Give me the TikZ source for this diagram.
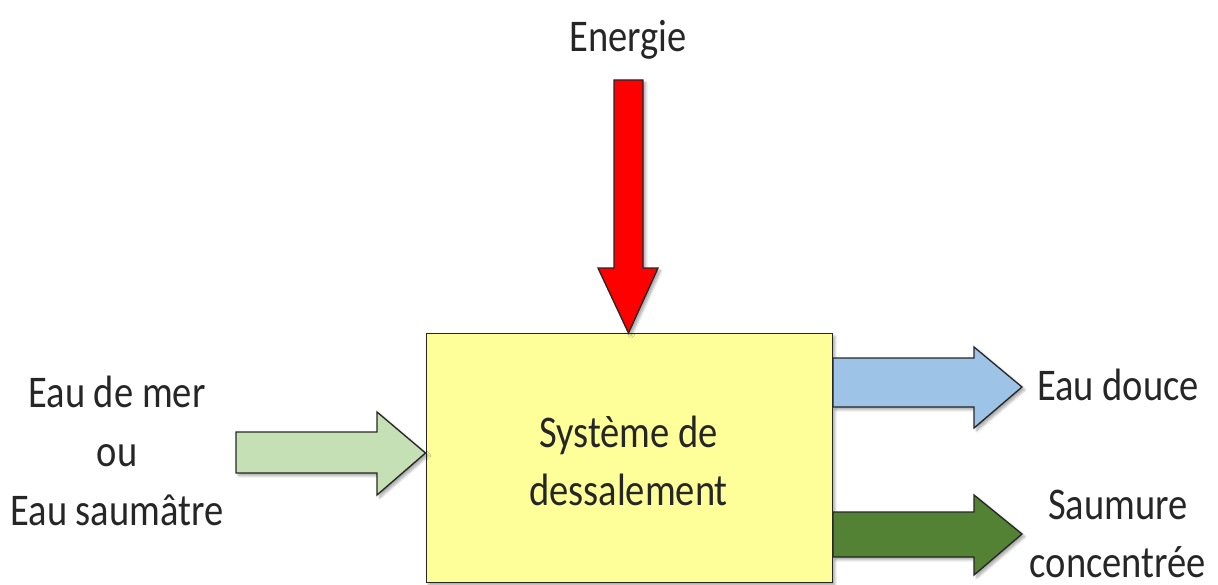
\documentclass[tikz,border=0pt]{standalone}
\usepackage{fontspec}
\setmainfont{Carlito}
\usetikzlibrary{shadows.blur}

\definecolor{boxyellow}{RGB}{255,255,153}
\definecolor{lightgreen}{RGB}{197,224,180}
\definecolor{lightblue}{RGB}{157,195,230}
\definecolor{darkgreen}{RGB}{84,130,53}

\tikzset{
  flow/.style={draw=black!85, line width=1pt, line join=miter, blur shadow={shadow blur steps=6, shadow xshift=2pt, shadow yshift=-2pt, shadow opacity=35}},
  label/.style={inner sep=0pt, align=center, xscale=0.85, font=\fontsize{34}{44}\selectfont, text=black!85}
}

\begin{document}
\begin{tikzpicture}[x=0.75pt,y=0.75pt,yscale=-1,xscale=1]
\useasboundingbox (0,0) rectangle (1218,585);

%Shape: Rectangle [id:systeme]
\node (sys) [flow, fill=boxyellow, minimum width=406pt*0.75, minimum height=249pt*0.75, anchor=north west, inner sep=0pt] at (425.5,333) {};

%Shape: Down Arrow [id:energie]
\draw [flow, fill=red] (614,80) -- (643,80) -- (643,268) -- (658,268) -- (sys.north -| 628.5,0) -- (598,268) -- (614,268) -- cycle;
%Shape: Right Arrow [id:entree]
\draw [flow, fill=lightgreen] (236,432) -- (377,432) -- (377,412) -- (sys.west |- 0,453) -- (377,495) -- (377,473) -- (236,473) -- cycle;
%Shape: Right Arrow [id:douce]
\draw [flow, fill=lightblue] (sys.east |- 0,358) -- (974,358) -- (974,347) -- (1022,387) -- (974,428) -- (974,407) -- (sys.east |- 0,407) -- cycle;
%Shape: Right Arrow [id:saumure]
\draw [flow, fill=darkgreen] (sys.east |- 0,512) -- (974,512) -- (974,495) -- (1022,534) -- (974,575) -- (974,557) -- (sys.east |- 0,557) -- cycle;

% Text Node
\node (txtsys) [label] at (628.5,461) {Système de\\dessalement};
% Text Node
\node (txtenergie) [label] at (628,40) {Energie};
% Text Node
\node (txtentree) [label] at (117,451) {Eau de mer\\ou\\Eau saumâtre};
% Text Node
\node (txtdouce) [label] at (1118,385) {Eau douce};
% Text Node
\node (txtsaumure) [label] at (1118,534) {Saumure\\concentrée};

\end{tikzpicture}
\end{document}
